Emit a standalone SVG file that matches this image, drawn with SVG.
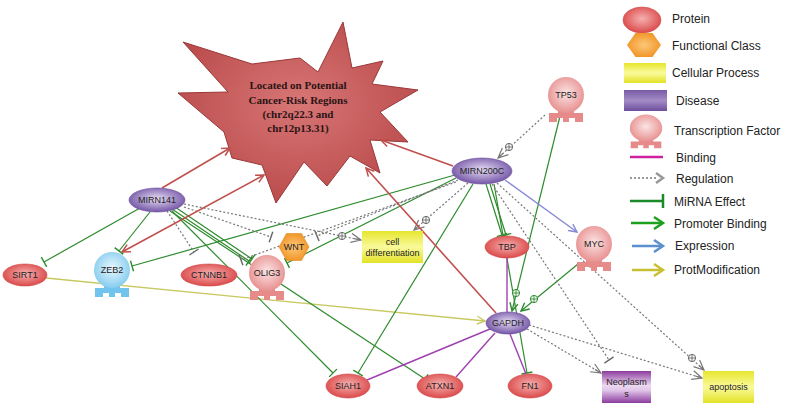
<svg xmlns="http://www.w3.org/2000/svg" xmlns:xlink="http://www.w3.org/1999/xlink" width="785" height="407" viewBox="0 0 785 407">
<style>
text{font-family:"Liberation Sans",Arial,sans-serif;fill:#222}
.nl{font-size:9px;text-anchor:middle}
.lg{font-size:12px}
.star{font-family:"Liberation Serif","Times New Roman",serif;font-weight:bold;font-size:11px;text-anchor:middle;fill:#2a1414}
.red{stroke:#c0504d;stroke-width:1.6;fill:none}
.mir{stroke:#2e8b2e;stroke-width:1.2;fill:none}
.pro{stroke:#2e8b2e;stroke-width:1.2;fill:none}
.exp{stroke:#8888d8;stroke-width:1.4;fill:none}
.pm{stroke:#c8c860;stroke-width:1.3;fill:none}
.bind{stroke:#a040b0;stroke-width:1.4;fill:none}
.reg{stroke:#777;stroke-width:1.2;stroke-dasharray:2 2;fill:none}
.prot{fill:url(#gProt);stroke:#d04848;stroke-width:0.6}
.dis{fill:url(#gDis);stroke:#6a4c9c;stroke-width:0.6}
.tfp circle{fill:url(#gTFp)}
.tfp use{fill:#e68a8a}
.tfb circle{fill:url(#gTFb)}
.tfb use{fill:#70c4ee}
</style>
<defs>
<radialGradient id="gProt" cx="50%" cy="45%" r="55%"><stop offset="0" stop-color="#f6b0b0"/><stop offset="1" stop-color="#db4a4a"/></radialGradient>
<radialGradient id="gDis" cx="50%" cy="45%" r="55%"><stop offset="0" stop-color="#e6dcf4"/><stop offset="1" stop-color="#7456a6"/></radialGradient>
<radialGradient id="gTFp" cx="50%" cy="45%" r="55%"><stop offset="0" stop-color="#fbe4e4"/><stop offset="1" stop-color="#e89090"/></radialGradient>
<radialGradient id="gTFb" cx="50%" cy="45%" r="55%"><stop offset="0" stop-color="#eaf8fe"/><stop offset="1" stop-color="#86ccef"/></radialGradient>
<radialGradient id="gHex" cx="50%" cy="50%" r="55%"><stop offset="0" stop-color="#fcc77a"/><stop offset="1" stop-color="#f19322"/></radialGradient>
<linearGradient id="gYel" x1="0" y1="0" x2="0" y2="1"><stop offset="0" stop-color="#e6e62c"/><stop offset="0.5" stop-color="#fafa9c"/><stop offset="1" stop-color="#e2e226"/></linearGradient>
<linearGradient id="gNeo" x1="0" y1="0" x2="0" y2="1"><stop offset="0" stop-color="#8c3c9e"/><stop offset="0.45" stop-color="#ecd8f0"/><stop offset="0.6" stop-color="#e2c6ea"/><stop offset="1" stop-color="#8c3c9e"/></linearGradient>
<linearGradient id="gDisL" x1="0" y1="0" x2="0" y2="1"><stop offset="0" stop-color="#7a5aa6"/><stop offset="0.5" stop-color="#a28cc6"/><stop offset="1" stop-color="#6e4e9c"/></linearGradient>
<radialGradient id="gStar" cx="50%" cy="45%" r="60%"><stop offset="0" stop-color="#d87676"/><stop offset="1" stop-color="#b84848"/></radialGradient>
<marker id="barG" markerUnits="userSpaceOnUse" viewBox="-2 -7 4 14" markerWidth="4" markerHeight="14" refX="0" refY="0" orient="auto"><path d="M0,-5.5 L0,5.5" stroke="#2e8b2e" stroke-width="1.4"/></marker>
<marker id="barR" markerUnits="userSpaceOnUse" viewBox="-2 -7 4 14" markerWidth="4" markerHeight="14" refX="0" refY="0" orient="auto"><path d="M0,-5.5 L0,5.5" stroke="#666" stroke-width="1.4"/></marker>
<marker id="arrR" markerUnits="userSpaceOnUse" viewBox="-10 -6 12 12" markerWidth="12" markerHeight="12" refX="0" refY="0" orient="auto"><path d="M-8,-4 L0,0 L-8,4" stroke="#c0504d" stroke-width="1.5" fill="none"/></marker>
<marker id="arrRs" markerUnits="userSpaceOnUse" viewBox="-10 -6 12 12" markerWidth="12" markerHeight="12" refX="0" refY="0" orient="auto-start-reverse"><path d="M-8,-4 L0,0 L-8,4" stroke="#c0504d" stroke-width="1.5" fill="none"/></marker>
<marker id="arrG" markerUnits="userSpaceOnUse" viewBox="-10 -6 12 12" markerWidth="12" markerHeight="12" refX="0" refY="0" orient="auto"><path d="M-8,-4 L0,0 L-8,4" stroke="#2e8b2e" stroke-width="1.4" fill="none"/></marker>
<marker id="arrGy" markerUnits="userSpaceOnUse" viewBox="-12 -6 14 12" markerWidth="14" markerHeight="12" refX="0" refY="0" orient="auto"><path d="M-10,-4.5 L0,0 L-10,4.5 M-7,0 L0,0" stroke="#777" stroke-width="1.2" fill="none"/></marker>
<marker id="arrB" markerUnits="userSpaceOnUse" viewBox="-10 -6 12 12" markerWidth="12" markerHeight="12" refX="0" refY="0" orient="auto"><path d="M-8,-4 L0,0 L-8,4" stroke="#8888d8" stroke-width="1.4" fill="none"/></marker>
<marker id="arrY" markerUnits="userSpaceOnUse" viewBox="-10 -6 12 12" markerWidth="12" markerHeight="12" refX="0" refY="0" orient="auto"><path d="M-8,-4 L0,0 L-8,4" stroke="#c8c860" stroke-width="1.4" fill="none"/></marker>
<g id="plusG"><circle r="3.6" fill="#fff" stroke="#2e8b2e" stroke-width="1"/><path d="M-3.6,0 H3.6 M0,-3.6 V3.6" stroke="#2e8b2e" stroke-width="0.9"/></g>
<g id="plusR"><circle r="3.6" fill="#fff" stroke="#666" stroke-width="1"/><path d="M-3.6,0 H3.6 M0,-3.6 V3.6" stroke="#666" stroke-width="0.9"/></g>
<path id="tfBase" d="M-8,14 L-8,18 L-17,18 L-17,27 L-9,27 L-9,23 L-3,23 L-3,27 L3,27 L3,23 L9,23 L9,27 L17,27 L17,18 L8,18 L8,14 Z"/>
</defs>
<rect width="785" height="407" fill="#fff"/>

<!-- Star -->
<g id="star">
<polygon points="343,22 352,68 383,61 372,84 418,90 380,112 408,142 370,140 380,173 350,156 327,186 304,162 276,203 262,165 232,158 224,132 178,93 228,92 183,42 252,64 300,58 318,72" fill="url(#gStar)" stroke="#9a3838" stroke-width="1"/>
<text class="star" x="298" y="89">Located on Potential</text>
<text class="star" x="298" y="104">Cancer-Risk Regions</text>
<text class="star" x="298" y="118">(chr2q22.3 and</text>
<text class="star" x="298" y="132">chr12p13.31)</text>
</g>

<g id="connectors">
<!-- olive prot modification -->
<line class="pm" x1="46" y1="278" x2="485" y2="321" marker-end="url(#arrY)"/>
<!-- green miRNA effect -->
<line class="mir" x1="140" y1="208" x2="44" y2="262" marker-end="url(#barG)"/>
<line class="mir" x1="150" y1="212" x2="119" y2="251" marker-end="url(#barG)"/>
<line class="mir" x1="172" y1="209" x2="249" y2="261" marker-end="url(#barG)"/>
<line class="mir" x1="175" y1="207" x2="252" y2="259" marker-end="url(#barG)"/>
<line class="mir" x1="172" y1="211" x2="333" y2="373" marker-end="url(#barG)"/>
<line class="mir" x1="170" y1="211" x2="425" y2="379" marker-end="url(#barG)"/>
<line class="mir" x1="455" y1="175" x2="132" y2="266" marker-end="url(#barG)"/>
<line class="mir" x1="456" y1="178" x2="287" y2="263" marker-end="url(#barG)"/>
<line class="mir" x1="473" y1="184" x2="358" y2="373" marker-end="url(#barG)"/>
<line class="mir" x1="486" y1="184" x2="502" y2="235" marker-end="url(#barG)"/>
<line class="mir" x1="490" y1="184" x2="506" y2="235" marker-end="url(#barG)"/>
<line class="mir" x1="494" y1="184" x2="527" y2="373" marker-end="url(#barG)"/>
<!-- promoter binding -->
<line class="pro" x1="562" y1="108" x2="512" y2="311" marker-end="url(#arrG)"/>
<line class="pro" x1="578" y1="264" x2="521" y2="311" marker-end="url(#arrG)"/>
<use href="#plusG" x="516" y="293"/>
<use href="#plusG" x="534" y="299"/>
<!-- expression -->
<line class="exp" x1="505" y1="180" x2="577" y2="232" marker-end="url(#arrB)"/>
<!-- binding -->
<line class="bind" x1="507" y1="258" x2="507" y2="312"/>
<line class="bind" x1="490" y1="329" x2="367" y2="380"/>
<line class="bind" x1="495" y1="333" x2="456" y2="377"/>
<line class="bind" x1="510" y1="334" x2="526" y2="374"/>
<!-- regulation -->
<line class="reg" x1="167" y1="211" x2="194" y2="252" marker-end="url(#barR)"/>
<line class="reg" x1="184" y1="207" x2="271" y2="237" marker-end="url(#barR)"/>
<line class="reg" x1="184" y1="204" x2="361" y2="240" marker-end="url(#arrGy)"/>
<use href="#plusR" x="342" y="236"/>
<line class="reg" x1="458" y1="180" x2="317" y2="236" marker-end="url(#barR)"/>
<line class="reg" x1="456" y1="182" x2="241" y2="260" marker-end="url(#barR)"/>
<line class="reg" x1="468" y1="183" x2="414" y2="230" marker-end="url(#arrGy)"/>
<use href="#plusR" x="426" y="220"/>
<line class="reg" x1="545" y1="115" x2="498" y2="158" marker-end="url(#arrGy)"/>
<use href="#plusR" x="509" y="147"/>
<line class="reg" x1="492" y1="184" x2="609" y2="360" marker-end="url(#barR)"/>
<line class="reg" x1="497" y1="183" x2="704" y2="370" marker-end="url(#arrGy)"/>
<use href="#plusR" x="692" y="358"/>
<line class="reg" x1="527" y1="329" x2="601" y2="373" marker-end="url(#arrGy)"/>
<line class="reg" x1="529" y1="325" x2="702" y2="378" marker-end="url(#arrGy)"/>
<!-- red to star -->
<line class="red" x1="162" y1="188" x2="230" y2="148" marker-end="url(#arrR)"/>
<line class="red" x1="122" y1="252" x2="264" y2="175" marker-start="url(#arrRs)" marker-end="url(#arrR)"/>
<line class="red" x1="453" y1="166" x2="381" y2="140" marker-end="url(#arrR)"/>
<line class="red" x1="496" y1="313" x2="366" y2="168" marker-end="url(#arrR)"/>
</g>

<!-- Nodes -->
<g id="MIRN141"><ellipse class="dis" cx="157" cy="200" rx="28" ry="12"/><text class="nl" x="157" y="203">MIRN141</text></g>
<g id="MIRN200C"><ellipse class="dis" cx="482" cy="171" rx="30" ry="13"/><text class="nl" x="482" y="174">MIRN200C</text></g>
<g id="GAPDH"><ellipse class="dis" cx="508" cy="323" rx="22" ry="11"/><text class="nl" x="508" y="326">GAPDH</text></g>
<g id="SIRT1"><ellipse class="prot" cx="25" cy="275" rx="22" ry="11"/><text class="nl" x="25" y="278">SIRT1</text></g>
<g id="CTNNB1"><ellipse class="prot" cx="209" cy="275" rx="28" ry="11"/><text class="nl" x="209" y="278">CTNNB1</text></g>
<g id="TBP"><ellipse class="prot" cx="507" cy="247" rx="22" ry="11"/><text class="nl" x="507" y="250">TBP</text></g>
<g id="SIAH1"><ellipse class="prot" cx="348" cy="386" rx="22" ry="12"/><text class="nl" x="348" y="389">SIAH1</text></g>
<g id="ATXN1"><ellipse class="prot" cx="440" cy="386" rx="23" ry="12"/><text class="nl" x="440" y="389">ATXN1</text></g>
<g id="FN1"><ellipse class="prot" cx="530" cy="386" rx="22" ry="12"/><text class="nl" x="530" y="389">FN1</text></g>
<g id="ZEB2" class="tfb" transform="translate(112,270)"><use href="#tfBase"/><circle r="18"/><text class="nl" x="0" y="3">ZEB2</text></g>
<g id="OLIG3" class="tfp" transform="translate(267,273)"><use href="#tfBase"/><circle r="18"/><text class="nl" x="0" y="3">OLIG3</text></g>
<g id="MYC" class="tfp" transform="translate(594,244)"><use href="#tfBase"/><circle r="18"/><text class="nl" x="0" y="3">MYC</text></g>
<g id="TP53" class="tfp" transform="translate(566,95)"><use href="#tfBase"/><circle r="18"/><text class="nl" x="0" y="3">TP53</text></g>
<g id="WNT"><polygon points="279,247 286.5,233.5 301.5,233.5 309,247 301.5,260.5 286.5,260.5" fill="url(#gHex)" stroke="#e08820" stroke-width="0.6"/><text class="nl" x="294" y="250">WNT</text></g>
<g id="cell_differentiation"><rect x="362" y="231" width="61" height="32" fill="url(#gYel)"/><text class="nl" x="392.5" y="245">cell</text><text class="nl" x="392.5" y="256">differentiation</text></g>
<g id="Neoplasms"><rect x="602" y="371" width="49" height="32" fill="url(#gNeo)"/><text class="nl" x="626.5" y="385">Neoplasm</text><text class="nl" x="626.5" y="397">s</text></g>
<g id="apoptosis"><rect x="703" y="371" width="51" height="32" fill="url(#gYel)"/><text class="nl" x="728.5" y="390">apoptosis</text></g>

<!-- Legend -->
<g id="legend">
<ellipse class="prot" cx="642" cy="20" rx="19" ry="13"/>
<text class="lg" x="672" y="23">Protein</text>
<polygon points="627,45 635.5,33 652.5,33 661,45 652.5,57 635.5,57" fill="url(#gHex)"/>
<text class="lg" x="672" y="50">Functional Class</text>
<rect x="624" y="63" width="42" height="20" fill="url(#gYel)"/>
<text class="lg" x="672" y="77">Cellular Process</text>
<rect x="624" y="90" width="43" height="21" fill="url(#gDisL)"/>
<text class="lg" x="676" y="105">Disease</text>
<g class="tfp" transform="translate(646,128) scale(0.9,0.75)"><use href="#tfBase"/><circle r="18"/></g>
<text class="lg" x="674" y="135">Transcription Factor</text>
<line x1="630" y1="157" x2="663" y2="157" stroke="#d020a0" stroke-width="2.5"/>
<text class="lg" x="676" y="162">Binding</text>
<line x1="630" y1="178" x2="658" y2="178" stroke="#999" stroke-width="2" stroke-dasharray="2 2"/>
<path d="M656,173 L663,178 L656,183" fill="none" stroke="#999" stroke-width="2.5"/>
<text class="lg" x="676" y="183">Regulation</text>
<line x1="630" y1="201" x2="663" y2="201" stroke="#1a8a2a" stroke-width="2.5"/>
<line x1="663" y1="194" x2="663" y2="208" stroke="#1a8a2a" stroke-width="2.5"/>
<text class="lg" x="674" y="206">MiRNA Effect</text>
<line x1="631" y1="223" x2="661" y2="223" stroke="#1ea01e" stroke-width="2.5"/>
<path d="M654,217 L663,223 L654,229" fill="none" stroke="#1ea01e" stroke-width="2.5"/>
<text class="lg" x="674" y="228">Promoter Binding</text>
<line x1="632" y1="246" x2="661" y2="246" stroke="#5b8fd0" stroke-width="2.5"/>
<path d="M654,240 L663,246 L654,252" fill="none" stroke="#5b8fd0" stroke-width="2.5"/>
<text class="lg" x="675" y="250">Expression</text>
<line x1="632" y1="270" x2="661" y2="270" stroke="#c8c030" stroke-width="2.5"/>
<path d="M654,264 L663,270 L654,276" fill="none" stroke="#c8c030" stroke-width="2.5"/>
<text class="lg" x="674" y="274">ProtModification</text>
</g>
</svg>
